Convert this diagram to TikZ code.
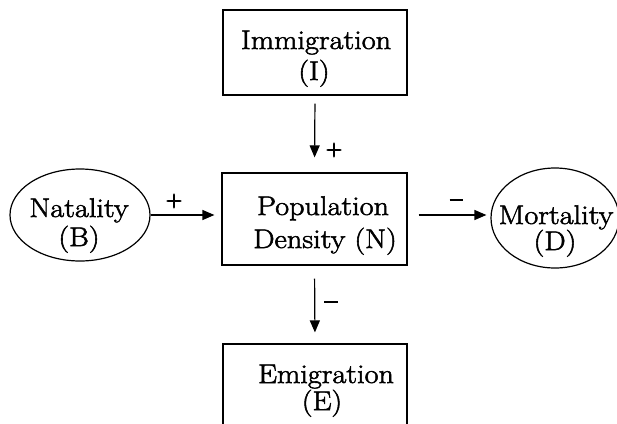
\documentclass[tikz,border=0pt]{standalone}
\usepackage{fontspec}
\setmainfont{Latin Modern Roman}[FakeStretch=1.12,FakeBold=2]
\newfontfamily\signfont{Latin Modern Roman}[FakeBold=4]
\usetikzlibrary{shapes.geometric,arrows.meta}
\begin{document}
\begin{tikzpicture}[x=1pt,y=-1pt,
  box/.style={draw,line width=1.2pt,rectangle,inner sep=0pt},
  oval/.style={draw,line width=1.2pt,ellipse,inner sep=0pt},
  txt/.style={inner sep=0pt,anchor=base,font=\fontsize{27}{33}\selectfont},
  arr/.style={line width=1.2pt,-{Triangle[length=12pt,width=10pt]}},
  sign/.style={font=\signfont\fontsize{22}{22}\selectfont,inner sep=0pt}]
\clip (0,0) rectangle (617,423);
\fill[white] (0,0) rectangle (617,423);
% shapes
\node[box,minimum width=184pt,minimum height=85pt] (imm) at (315,52.5) {};
\node[box,minimum width=185pt,minimum height=92pt] (pop) at (314.5,219) {};
\node[oval,minimum width=140pt,minimum height=92pt] (nat) at (80,215) {};
\node[oval,minimum width=128pt,minimum height=100pt] (mor) at (555,218) {};
\node[box,minimum width=184pt,minimum height=120pt] (emi) at (315,404) {};
% texts
\node[txt] (imm1) at (316,49) {Immigration};
\node[txt] (imm2) at (314,80) {(I)};
\node[txt] (pop1) at (323,215) {Population};
\node[txt] (pop2) at (325,248) {Density (N)};
\node[txt] (nat1) at (79,217) {Natality};
\node[txt] (nat2) at (79,246) {(B)};
\node[txt] (mor1) at (556,224) {Mortality};
\node[txt] (mor2) at (555,250) {(D)};
\node[txt] (emi1) at (326,383) {Emigration};
\node[txt] (emi2) at (322,410) {(E)};
% connectors
\draw[arr,shorten <=8pt,shorten >=15pt] (imm.south) -- (pop.north);
\draw[arr,shorten >=7pt] (nat.east) -- (nat.east -| pop.west);
\draw[arr,shorten <=11pt,shorten >=4pt] ([yshift=4pt]pop.east) -- ([yshift=4pt]pop.east -| mor.west);
\draw[arr,shorten <=13pt,shorten >=11pt] (pop.south) -- (emi.north);
% signs
\node[sign] (p1) at (334,150) {+};
\node[sign] (p2) at (174,201) {+};
\node[sign] (m1) at (456,200) {\rule{13pt}{1.6pt}};
\node[sign] (m2) at (331,302) {\rule{14pt}{1.6pt}};
\end{tikzpicture}
\end{document}
